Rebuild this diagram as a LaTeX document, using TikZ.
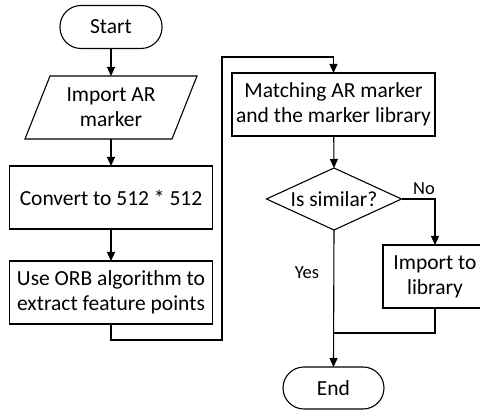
\documentclass[tikz,border=0pt]{standalone}
\usepackage{fontspec}
\setmainfont{Carlito}
\usetikzlibrary{arrows.meta,calc}
\begin{document}
\begin{tikzpicture}[x=1pt,y=-1pt,
  every node/.style={outer sep=0pt,inner sep=0pt,align=center,
    font=\fontsize{21.5}{25}\selectfont},
  proc/.style={draw,line width=1.1pt,minimum width=203pt,minimum height=63pt},
  term/.style={draw,line width=1.1pt,rounded corners=21pt,minimum width=102pt,minimum height=43pt},
  flow/.style={line width=1.1pt,-{Triangle[length=9pt,width=8pt]}},
  plain/.style={line width=1.1pt},
  lbl/.style={font=\fontsize{18.5}{21}\selectfont}]
\useasboundingbox (0,0) rectangle (480,411);

% left column
\node[term] (start) at (111,27) {Start};
\node[minimum width=147pt,minimum height=63pt] (imp) at (111,107.5) {Import AR\\marker};
\draw[line width=1.1pt,line join=miter]
  ($(imp.north west)+(12.5,0)$) -- ($(imp.north east)+(12.5,0)$) --
  ($(imp.south east)+(-12.5,0)$) -- ($(imp.south west)+(-12.5,0)$) -- cycle;
\node[proc] (conv) at (111,197.5) {Convert to 512 * 512};
\node[proc] (orb) at (111,292.5) {Use ORB algorithm to\\extract feature points};

% right column
\node[proc] (match) at (333.5,104.5) {Matching AR marker\\and the marker library};
\node[minimum width=135pt,minimum height=62pt] (dec) at (334,199) {Is similar?};
\draw[line width=1.1pt,line join=miter]
  (dec.north) -- (dec.east) -- (dec.south) -- (dec.west) -- cycle;
\node[proc,minimum width=104pt] (lib) at (435,276.5) {Import to\\library};
\node[term,minimum width=101pt,minimum height=42pt] (end) at (333.5,388) {End};

\coordinate (lb) at (222,340);
\coordinate (lt) at (222,57);
\coordinate (join) at (334,333);

% connectors
\draw[flow] (start) -- (imp);
\draw[flow] (imp) -- (conv);
\draw[flow] (conv) -- (orb);
\draw[flow] (orb.south) |- (lb) -- (lt) -| (match.north);
\draw[flow] (match) -- (dec.north);
\draw[flow] (dec.east) -| (lib.north);
\draw[flow] (dec.south) -- (end.north);
\draw[plain] (lib.south) |- (join);

\node[lbl] (no) at (424,189) {No};
\node[lbl] (yes) at (307,273) {Yes};
\end{tikzpicture}
\end{document}
